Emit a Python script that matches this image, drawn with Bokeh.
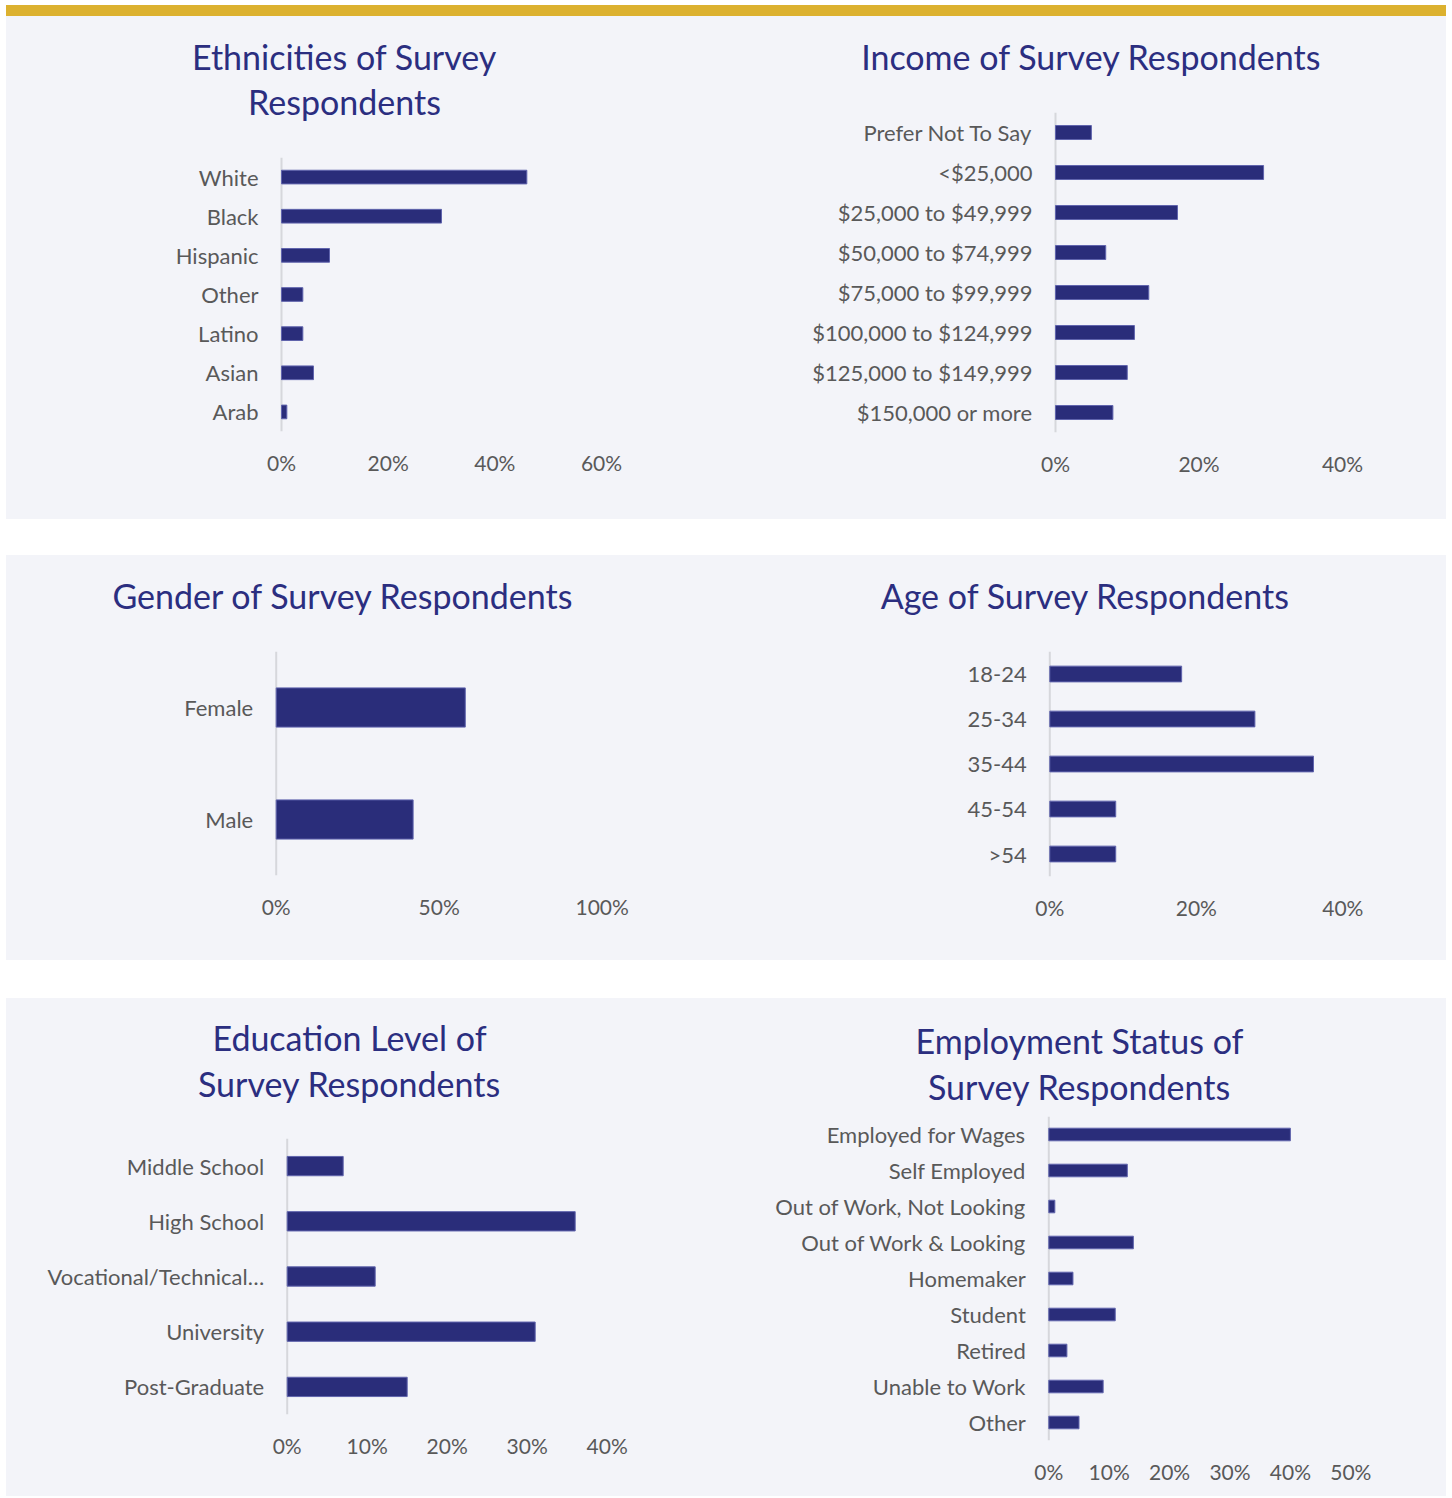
from bokeh.plotting import figure
from bokeh.models import FactorRange, Range1d, ColumnDataSource, FixedTicker, Span, Div, Spacer
from bokeh.layouts import column, row
from bokeh.embed import file_html
from bokeh.resources import INLINE
from bokeh.core.properties import value

# ---------------- data ----------------
eth_title = ["Ethnicities of Survey", "Respondents"]
eth_labels = ["White", "Black", "Hispanic", "Other", "Latino", "Asian", "Arab"]
eth_values = [46, 30, 9, 4, 4, 6, 1]
eth_ticks = [0, 20, 40, 60]

inc_title = ["Income of Survey Respondents"]
inc_labels = ["Prefer Not To Say", "<$25,000", "$25,000 to $49,999", "$50,000 to $74,999",
              "$75,000 to $99,999", "$100,000 to $124,999", "$125,000 to $149,999", "$150,000 or more"]
inc_values = [5, 29, 17, 7, 13, 11, 10, 8]
inc_ticks = [0, 20, 40]

gen_title = ["Gender of Survey Respondents"]
gen_labels = ["Female", "Male"]
gen_values = [58, 42]
gen_ticks = [0, 50, 100]

age_title = ["Age of Survey Respondents"]
age_labels = ["18-24", "25-34", "35-44", "45-54", ">54"]
age_values = [18, 28, 36, 9, 9]
age_ticks = [0, 20, 40]

edu_title = ["Education Level of", "Survey Respondents"]
edu_labels = ["Middle School", "High School", "Vocational/Technical\u2026", "University", "Post-Graduate"]
edu_values = [7, 36, 11, 31, 15]
edu_ticks = [0, 10, 20, 30, 40]

emp_title = ["Employment Status of", "Survey Respondents"]
emp_labels = ["Employed for Wages", "Self Employed", "Out of Work, Not Looking", "Out of Work & Looking",
              "Homemaker", "Student", "Retired", "Unable to Work", "Other"]
emp_values = [40, 13, 1, 14, 4, 11, 3, 9, 5]
emp_ticks = [0, 10, 20, 30, 40, 50]

# ---------------- style ----------------
BG = "#f3f4f9"
NAVY = "#2a2d7a"
TITLE_C = "#2b2e80"
GRAY = "#595959"
GOLD = "#dcb12f"
FONT = "Lato"

FIG_W = 720
LEFT_X, RIGHT_X = 6, 726
ROW_Y = [16, 555, 998]
ROW_H = [503, 405, 498]


def bare(width, height, **kw):
    f = figure(width=width, height=height, output_backend="svg", toolbar_location=None, tools="",
               background_fill_color=None, border_fill_color=None, outline_line_color=None, **kw)
    f.grid.visible = False
    return f


def chart(title_lines, title_ys, labels, vals, ticks, ox, oy, fh, title_cx, zero_px, pct_px,
          frame_top, frame_bottom, half=330):
    # --- title strip ---
    th = int(round(frame_top - oy - 4))
    tf = bare(FIG_W, th, x_range=Range1d(0, FIG_W), y_range=Range1d(th, 0),
              x_axis_location=None, y_axis_location=None, min_border=0)
    tsrc = ColumnDataSource(dict(x=[title_cx - ox] * len(title_lines),
                                 y=[ty - oy - 2 for ty in title_ys], t=title_lines))
    tf.text(x="x", y="y", text="t", source=tsrc, text_align="center", text_baseline="middle",
            text_font=value(FONT), text_font_size="34px", text_color=TITLE_C)

    # --- bar chart ---
    oy2 = oy + th
    fh2 = fh - th
    L = title_cx - half
    R = title_cx + half
    x0 = (L - zero_px) / pct_px
    x1 = (R - zero_px) / pct_px
    p = bare(FIG_W, fh2, x_range=Range1d(x0, x1), y_range=FactorRange(factors=labels[::-1]),
             y_axis_location=None,
             min_border_left=int(round(L - ox)), min_border_right=int(round(ox + FIG_W - R)),
             min_border_top=int(round(frame_top - oy2)),
             min_border_bottom=int(round(oy + fh - frame_bottom)))

    src = ColumnDataSource(dict(cat=labels, val=vals, zero=[0] * len(labels)))
    p.add_layout(Span(location=0, dimension="height", line_color="#d6d7dc", line_width=2, level="underlay"))
    p.hbar(y="cat", left=0, right="val", height=0.35, source=src,
           fill_color=NAVY, line_color="#6064ad", line_width=1)
    p.text(x="zero", y="cat", text="cat", source=src, x_offset=-23,
           text_align="right", text_baseline="middle",
           text_font=value(FONT), text_font_size="22px", text_color=GRAY)

    ax = p.xaxis[0]
    ax.ticker = FixedTicker(ticks=ticks)
    ax.major_label_overrides = {t: f"{t}%" for t in ticks}
    ax.axis_line_color = None
    ax.major_tick_line_color = None
    ax.minor_tick_line_color = None
    ax.major_tick_out = 0
    ax.major_tick_in = 0
    ax.major_label_standoff = 18
    ax.major_label_text_font = FONT
    ax.major_label_text_font_size = "21px"
    ax.major_label_text_color = GRAY
    return column(column(tf), column(p))


c1 = chart(eth_title, [58, 103], eth_labels, eth_values, eth_ticks,
           LEFT_X, ROW_Y[0], ROW_H[0], 344, 281, 320 / 60, 157.4, 430.6)
c2 = chart(inc_title, [58], inc_labels, inc_values, inc_ticks,
           RIGHT_X, ROW_Y[0], ROW_H[0], 1091, 1055, 287 / 40, 112, 432)
c3 = chart(gen_title, [597], gen_labels, gen_values, gen_ticks,
           LEFT_X, ROW_Y[1], ROW_H[1], 343, 275.7, 326 / 100, 651, 875)
c4 = chart(age_title, [597], age_labels, age_values, age_ticks,
           RIGHT_X, ROW_Y[1], ROW_H[1], 1085, 1049.3, 293 / 40, 651.5, 875.5)
c5 = chart(edu_title, [1039, 1085], edu_labels, edu_values, edu_ticks,
           LEFT_X, ROW_Y[2], ROW_H[2], 349, 286.7, 320 / 40, 1138.5, 1413.5)
c6 = chart(emp_title, [1042, 1088], emp_labels, emp_values, emp_ticks,
           RIGHT_X, ROW_Y[2], ROW_H[2], 1079, 1048.3, 302 / 50, 1116, 1440)

gold = Div(text="", width=1440, height=11, margin=(0, 0, 0, 0),
           styles={"background-color": GOLD})
panel_style = {"background-color": BG}

page = column(Spacer(width=1440, height=5),
              gold,
              row(c1, c2, styles=panel_style),
              Spacer(width=1440, height=36),
              row(c3, c4, styles=panel_style),
              Spacer(width=1440, height=38),
              row(c5, c6, styles=panel_style))
layout = row(Spacer(width=6, height=10), page)

open("out.html", "w").write(file_html(layout, INLINE))
